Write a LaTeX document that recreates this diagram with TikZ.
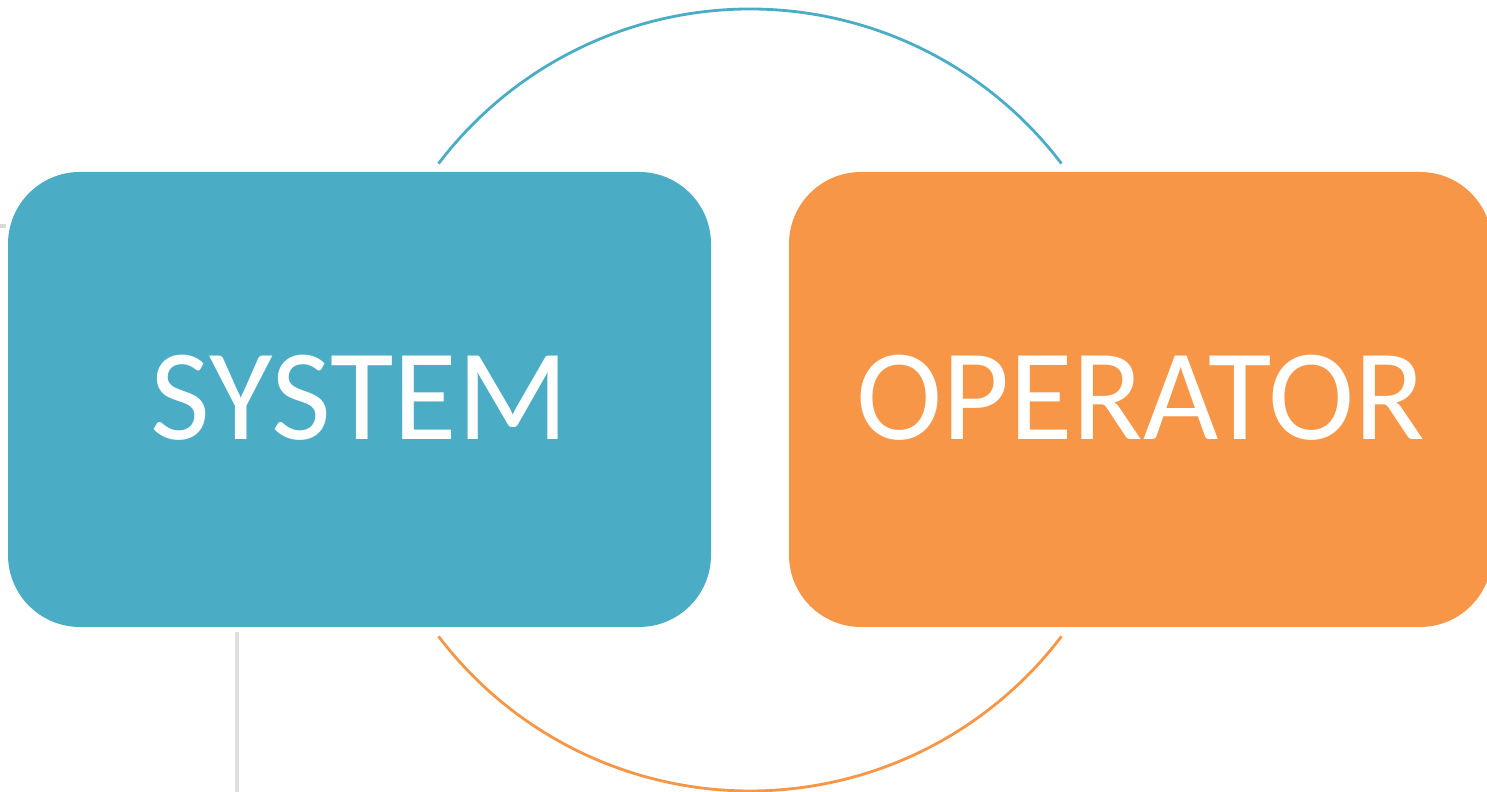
\documentclass[tikz,border=0pt]{standalone}
\usepackage{fontspec}
\setmainfont{Carlito}
\definecolor{sysBlue}{RGB}{75, 172, 198}
\definecolor{opOrange}{RGB}{247, 150, 70}

\begin{document}
\begin{tikzpicture}[
    block/.style={rectangle, rounded corners=0.72cm, minimum width=7.03cm,
      minimum height=4.55cm, inner sep=0pt, text=white,
      font=\fontsize{37}{44}\selectfont}]
        \useasboundingbox (0,0) rectangle (14.87,7.92);
        % the two blocks
        \node[block, fill=sysBlue] (system) at (3.595,3.925) {\raisebox{0.5mm}{SYSTEM}};
        \node[block, fill=opOrange] (operator) at (11.405,3.925) {\raisebox{0.5mm}{OPERATOR}};
        % loop between them
        \coordinate (hub) at (7.50,3.92);
        \draw[sysBlue, line width=0.8pt] ([shift={(142.8:3.91)}]hub) arc (142.8:37.2:3.91);
        \draw[opOrange, line width=0.8pt] ([shift={(-142.8:3.91)}]hub) arc (-142.8:-37.2:3.91);
        % leftover marks
        \draw[gray!30, line width=1.2pt] (0,5.66) -- (0.06,5.66);
        \draw[gray!25, line width=1.2pt] (2.37,1.60) -- (2.37,0);
      \end{tikzpicture}
\end{document}
